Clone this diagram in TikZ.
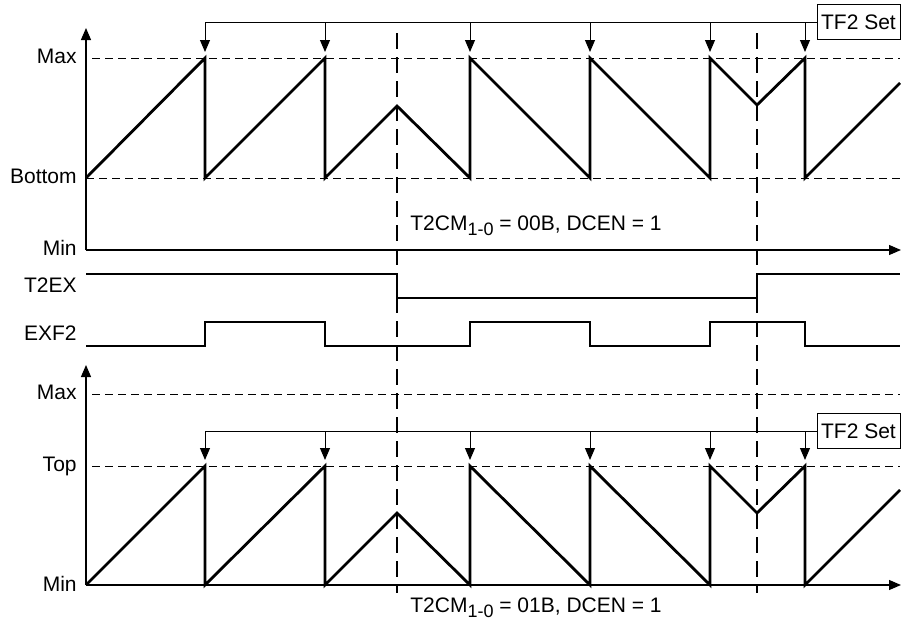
\documentclass[tikz,border=0pt]{standalone}
\usepackage{fontspec}
\setmainfont{Liberation Sans}
\usetikzlibrary{arrows.meta,positioning}

\begin{document}
\begin{tikzpicture}[
    x=0.5pt, y=-0.5pt,
    every node/.style={font=\fontsize{10.5}{12}\selectfont},
    lbl/.style={anchor=base east, inner sep=0pt},
    flag/.style={
      rectangle,
      draw,
      line width=0.5pt,
      anchor=east,
      minimum width=41.5pt,
      minimum height=17.5pt,
      inner sep=1pt
    },
    axis/.style={line width=0.6pt, -{Triangle[length=6pt,width=5pt]}},
    level/.style={line width=0.5pt, dash pattern=on 4pt off 2.5pt},
    eventline/.style={line width=0.6pt, dash pattern=on 8pt off 4pt},
    wave/.style={line width=1.4pt, line join=miter},
    drop/.style={line width=0.5pt, -{Triangle[length=6pt,width=5pt]}}
  ]
    \useasboundingbox (0,0) rectangle (901,621);

    % axis labels
    \node[lbl] (maxa) at (77,63.5) {Max};
    \node[lbl] (bota) at (77,183.5) {Bottom};
    \node[lbl] (mina) at (77,255) {Min};
    \node[lbl] (t2ex) at (77,292.5) {T2EX};
    \node[lbl] (exf2) at (77,340.5) {EXF2};
    \node[lbl] (maxb) at (77,399.5) {Max};
    \node[lbl] (topb) at (77,471.5) {Top};
    \node[lbl] (minb) at (77,591.5) {Min};

    % mode labels
    \node[anchor=base west, inner sep=0pt] (modea) at (410,230)
      {T2CM\raisebox{-2.5pt}{\fontsize{9}{10}\selectfont 1-0} = 00B, DCEN = 1};
    \node[anchor=base west, inner sep=0pt] (modeb) at (410,612)
      {T2CM\raisebox{-2.5pt}{\fontsize{9}{10}\selectfont 1-0} = 01B, DCEN = 1};

    % TF2 flags
    \node[flag] (tfa) at (900.5,22) {TF2 Set};
    \node[flag] (tfb) at (900.5,431) {TF2 Set};

    % event markers
    \coordinate (ea) at (397,33);
    \coordinate (eb) at (757,33);
    \draw[eventline] (ea) -- (397,593);
    \draw[eventline] (eb) -- (757,593);

    % upper counter
    \draw[level] (92,58) -- (900,58);
    \draw[level] (86,178) -- (900,178);
    \draw[axis] (86,250) -- (86,28);
    \draw[axis] (86,250) -- (901,250);
    \draw[wave] (86,178) -- (205,58) -- (205,178) -- (325,58) -- (325,178)
      -- (397,106) -- (470,178) -- (470,58) -- (590,178) -- (590,58)
      -- (710,178) -- (710,58) -- (757,105) -- (805,58) -- (805,178) -- (900,83);
    \draw[line width=0.5pt] (tfa.west) -- (205,22);
    \foreach \x in {205,325,470,590,710,805}
      \draw[drop] (\x,22) -- (\x,52);

    % T2EX and EXF2
    \draw[wave] (86,274) -- (397,274) -- (397,298) -- (757,298) -- (757,274) -- (900,274);
    \draw[wave] (86,346) -- (205,346) -- (205,322) -- (325,322) -- (325,346)
      -- (470,346) -- (470,322) -- (590,322) -- (590,346) -- (710,346)
      -- (710,322) -- (805,322) -- (805,346) -- (900,346);

    % lower counter
    \draw[level] (92,394) -- (900,394);
    \draw[level] (92,466) -- (900,466);
    \draw[axis] (86,585) -- (86,365);
    \draw[axis] (86,585) -- (901,585);
    \draw[wave] (86,585) -- (205,466) -- (205,585) -- (325,466) -- (325,585)
      -- (397,513) -- (470,585) -- (470,466) -- (590,585) -- (590,466)
      -- (710,585) -- (710,466) -- (757,513) -- (805,466) -- (805,585) -- (900,490);
    \draw[line width=0.5pt] (tfb.west) -- (205,431);
    \foreach \x in {205,325,470,590,710,805}
      \draw[drop] (\x,431) -- (\x,460);
  \end{tikzpicture}
\end{document}
